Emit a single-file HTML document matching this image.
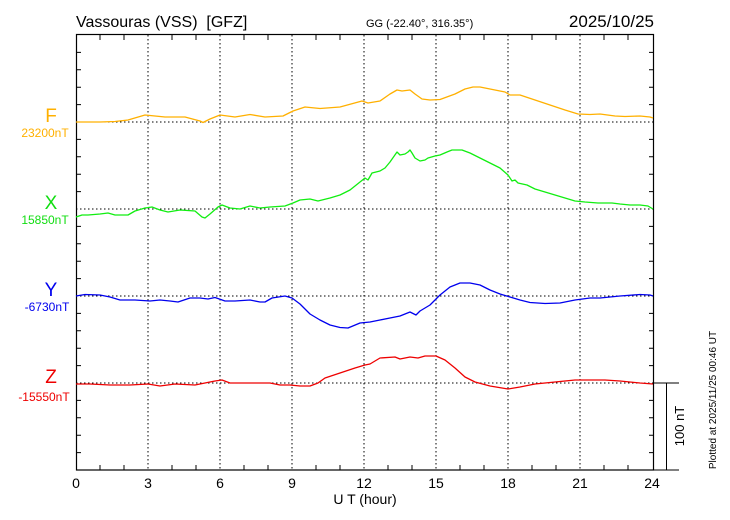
<!DOCTYPE html>
<html><head><meta charset="utf-8"><style>body{margin:0;background:#fff}svg{display:block;font-family:"Liberation Sans",sans-serif}</style></head><body>
<svg width="730" height="520" viewBox="0 0 730 520" xmlns="http://www.w3.org/2000/svg">
<rect width="730" height="520" fill="#fff"/>
<text x="76" y="27" font-size="16">Vassouras (VSS)&#160; [GFZ]</text>
<text x="366" y="27" font-size="11">GG (-22.40°, 316.35°)</text>
<text x="654" y="27" font-size="17" text-anchor="end">2025/10/25</text>
<g stroke="#000" stroke-width="1" stroke-dasharray="1.5,2.5" fill="none">
<path d="M148 35V470M220 35V470M292 35V470M364 35V470M436 35V470M508 35V470M580 35V470"/>
<path d="M76 122H654M76 209H654M76 296H654M76 383H654"/>
</g>
<rect x="76.5" y="34.5" width="577" height="435.5" fill="none" stroke="#000" stroke-width="1.2"/>
<g stroke="#000" stroke-width="1" id="t">
<path d="M100 35v5M124 35v5M172 35v5M196 35v5M244 35v5M268 35v5M316 35v5M340 35v5M388 35v5M412 35v5M460 35v5M484 35v5M532 35v5M556 35v5M604 35v5M628 35v5"/>
<path d="M100 470v-5M124 470v-5M172 470v-5M196 470v-5M244 470v-5M268 470v-5M316 470v-5M340 470v-5M388 470v-5M412 470v-5M460 470v-5M484 470v-5M532 470v-5M556 470v-5M604 470v-5M628 470v-5"/>
<path d="M76 52.4h5M76 69.8h5M76 87.2h5M76 104.6h5M76 139.4h5M76 156.8h5M76 174.2h5M76 191.6h5M76 226.4h5M76 243.8h5M76 261.2h5M76 278.6h5M76 313.4h5M76 330.8h5M76 348.2h5M76 365.6h5M76 400.4h5M76 417.8h5M76 435.2h5M76 452.6h5"/>
<path d="M654 52.4h-5M654 69.8h-5M654 87.2h-5M654 104.6h-5M654 139.4h-5M654 156.8h-5M654 174.2h-5M654 191.6h-5M654 226.4h-5M654 243.8h-5M654 261.2h-5M654 278.6h-5M654 313.4h-5M654 330.8h-5M654 348.2h-5M654 365.6h-5M654 400.4h-5M654 417.8h-5M654 435.2h-5M654 452.6h-5"/>
<path d="M654 383H679M654 470H679M666.5 383V470"/>
</g>
<g fill="none" stroke-width="1.3" stroke-linejoin="round">
<polyline stroke="#FFB000" points="76,122 100,122 115,121.5 128,120 145,115 165,117 185,117 200,121 203,122.5 210,119 220,115 235,117 250,114.5 265,117 283,116 293,111 305,107 320,108.5 340,107 362,101 368,103 380,101 390,94 397,90 402,91 410,90 415,94 422,99 430,100 440,99.5 455,94 465,89 473,87 480,87 490,89 505,92 510,95 520,95 535,100 550,105 565,110 578,114 590,114.5 600,114 615,116 625,116.5 640,116 650,117 653,118"/>
<polyline stroke="#11EE11" points="76,217 82,215 88,215 100,214 108,213 115,215 128,215 135,211 145,208 152,207 160,210 168,212 180,210 195,211 202,217 205,218 210,214 218,207 222,205 230,208 240,209 250,206 260,208 270,207 285,206 293,203 300,200 310,199 318,201 330,198 340,195 350,190 360,182 365,178 368,180 372,173 380,171 385,168 390,162 397,152 400,155 405,154 408,152 410,150 412,153 415,158 420,161 425,160 428,158 435,156 440,155 447,152 452,150 462,150 470,153 480,158 490,163 500,168 508,175 512,181 515,180 518,183 527,185 535,189 545,192 555,195 565,198 575,201 585,202 598,203 612,203 620,204 630,205 640,205 648,206 653,209"/>
<polyline stroke="#0000EE" points="76,296 85,294.5 100,295 110,297 120,300 135,300 150,301 160,300 170,301 178,302 190,298 200,298 208,299 215,297.5 225,301 235,301 250,300 260,302 265,302 272,298 285,296 292,298 300,304 310,314 320,320 330,325 340,327.5 348,328 360,323 370,322 380,320 390,318 400,316 410,312 416,315 420,311 430,305 440,295 450,287 460,283 470,283 480,285 490,290 500,294 510,297 520,300 530,302.5 545,303.5 560,303 575,300 590,298 600,298 620,296 640,294.5 650,295 653,296"/>
<polyline stroke="#EE0000" points="76,384 90,384 110,385 130,385 148,384 160,386 175,384 195,385 205,383 215,381 222,380 230,383 250,383 270,383 280,385 290,385 300,386 310,386 318,383 325,378 340,373 355,368 365,365 370,364 380,358 395,357 400,359 410,357 418,358 425,356 436,356 445,360 455,368 465,377 475,382 490,386 508,389 520,387 535,384 555,382 575,380 590,380 605,380 620,381 640,383 653,384"/>
</g>
<g text-anchor="middle">
<text x="51" y="122" font-size="19" fill="#FFB000">F</text>
<text x="45" y="137" font-size="12" fill="#FFB000">23200nT</text>
<text x="51" y="209" font-size="19" fill="#11DD11">X</text>
<text x="45" y="224" font-size="12" fill="#11DD11">15850nT</text>
<text x="51" y="296" font-size="19" fill="#0000EE">Y</text>
<text x="47" y="311" font-size="12" fill="#0000EE">-6730nT</text>
<text x="51" y="383" font-size="19" fill="#EE0000">Z</text>
<text x="44" y="401" font-size="12" fill="#EE0000">-15550nT</text>
</g>
<g font-size="14" text-anchor="middle">
<text x="76" y="488">0</text><text x="148" y="488">3</text><text x="220" y="488">6</text><text x="292" y="488">9</text><text x="364" y="488">12</text><text x="436" y="488">15</text><text x="508" y="488">18</text><text x="580" y="488">21</text><text x="652" y="488">24</text>
<text x="365" y="504">U T (hour)</text>
</g>
<text transform="translate(684,426) rotate(-90)" font-size="13" text-anchor="middle">100 nT</text>
<text transform="translate(716,400) rotate(-90)" font-size="10" text-anchor="middle">Plotted at 2025/11/25 00:46 UT</text>
</svg>
</body></html>
